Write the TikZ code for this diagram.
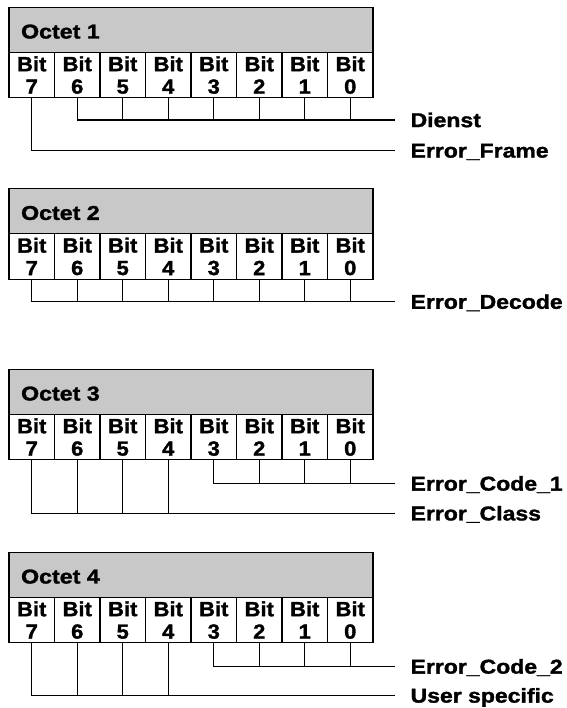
\documentclass[tikz,border=0pt]{standalone}
\usepackage{fontspec}
\newfontfamily\hfont{Liberation Sans Bold}[FakeStretch=1.16,FakeBold=1.5]
\newfontfamily\bfont{Liberation Sans Bold}[FakeStretch=1.07,FakeBold=1.5]
\newfontfamily\lfont{Liberation Sans Bold}[FakeStretch=1.15,FakeBold=1.5]
\definecolor{hdrgray}{RGB}{200,200,200}
\begin{document}
\begin{tikzpicture}[x=1pt,y=-1pt,line width=1.2pt,
  hdr/.style={draw,fill=hdrgray,minimum width=364pt,minimum height=45pt,anchor=north west,inner sep=0pt,outer sep=0pt},
  hdrtext/.style={anchor=west,inner sep=0pt,font=\hfont\fontsize{20}{22}\selectfont},
  bitcell/.style={draw,minimum width=45.5pt,minimum height=45.5pt,anchor=north west,inner sep=0pt,outer sep=0pt,align=center,font=\bfont\fontsize{20.5}{22.5}\selectfont},
  lbl/.style={anchor=base west,inner sep=0pt,font=\lfont\fontsize{20}{22}\selectfont},
  conn/.style={draw,line width=1.2pt}]
\useasboundingbox (0,0) rectangle (566,708);
\foreach \k/\T in {1/7.3,2/188.7,3/369.3,4/552.3}{
  \node[hdr] (h\k) at (9,\T) {};
  \node[hdrtext] (ht\k) at (20.5,\T+24.3) {Octet \k};
  \foreach \i in {0,...,7}{
    \pgfmathtruncatemacro\b{7-\i}
    \node[bitcell] (o\k-b\b) at (9+45.5*\i,\T+45) {Bit\\\b};
  }
}
% Octet 1
\coordinate (d1) at (395,120);
\coordinate (f1) at (395,150.5);
\draw[conn] (o1-b6.south) |- (d1);
\foreach \b in {5,...,0}{\draw[conn] (o1-b\b.south) -- (o1-b\b.south |- d1);}
\draw[conn] (o1-b7.south) |- (f1);
\node[lbl] (ldienst) at (410,127.1) {Dienst};
\node[lbl] (lframe) at (410,157.6) {Error\_Frame};
% Octet 2
\coordinate (e2) at (395,301.7);
\draw[conn] (o2-b7.south) |- (e2);
\foreach \b in {6,...,0}{\draw[conn] (o2-b\b.south) -- (o2-b\b.south |- e2);}
\node[lbl] (ldecode) at (410,308.8) {Error\_Decode};
% Octet 3
\coordinate (c3) at (395,483.5);
\coordinate (k3) at (395,513.3);
\draw[conn] (o3-b3.south) |- (c3);
\foreach \b in {2,1,0}{\draw[conn] (o3-b\b.south) -- (o3-b\b.south |- c3);}
\draw[conn] (o3-b7.south) |- (k3);
\foreach \b in {6,5,4}{\draw[conn] (o3-b\b.south) -- (o3-b\b.south |- k3);}
\node[lbl] (lcode1) at (410,490.6) {Error\_Code\_1};
\node[lbl] (lclass) at (410,520.4) {Error\_Class};
% Octet 4
\coordinate (c4) at (395,666.5);
\coordinate (u4) at (395,695.5);
\draw[conn] (o4-b3.south) |- (c4);
\foreach \b in {2,1,0}{\draw[conn] (o4-b\b.south) -- (o4-b\b.south |- c4);}
\draw[conn] (o4-b7.south) |- (u4);
\foreach \b in {6,5,4}{\draw[conn] (o4-b\b.south) -- (o4-b\b.south |- u4);}
\node[lbl] (lcode2) at (410,673.6) {Error\_Code\_2};
\node[lbl] (luser) at (410,702.6) {User specific};
\end{tikzpicture}
\end{document}
